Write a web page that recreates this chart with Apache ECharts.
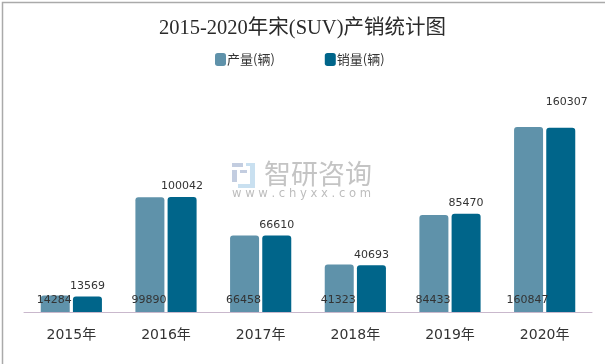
<!DOCTYPE html>
<html><head><meta charset="utf-8">
<style>html,body{margin:0;padding:0;background:#fff}#c{width:605px;height:364px}</style>
<script src="https://cdn.jsdelivr.net/npm/echarts@6/dist/echarts.min.js"></script>
</head><body><div id="c"></div>
<script>
const categories=['2015年','2016年','2017年','2018年','2019年','2020年'];
const production=[14284,99890,66458,41323,84433,160847];
const sales=[13569,100042,66610,40693,85470,160307];
const chart=echarts.init(document.getElementById('c'));
const lf='"DejaVu Sans",sans-serif';
chart.setOption({
 animation:false,
 backgroundColor:'#fff',
 title:{text:'2015-2020年宋(SUV)产销统计图',left:'center',top:13,textStyle:{fontFamily:'"Liberation Serif","Noto Sans CJK SC",serif',fontSize:20.5,fontWeight:'normal',color:'#2a2a2a'}},
 legend:{top:48,left:210,itemWidth:11,itemHeight:13,itemGap:50,icon:'roundRect',textStyle:{fontFamily:'"Noto Sans CJK SC",sans-serif',fontSize:13,color:'#333',padding:[0,0,0,-4]},data:['产量(辆)','销量(辆)']},
 grid:{left:24,right:13,top:105,bottom:52},
 xAxis:{type:'category',data:categories,axisTick:{show:false},axisLine:{lineStyle:{color:'#c9b8cc',width:1}},axisLabel:{fontFamily:'"DejaVu Sans","Noto Sans CJK SC",sans-serif',fontSize:14,color:'#333',margin:16}},
 yAxis:{type:'value',min:0,max:180000,show:false,splitLine:{show:false}},
 graphic:[
  {type:'rect',left:0,top:0,shape:{width:604,height:363},style:{fill:'none',stroke:'#aaa',lineWidth:1.5},silent:true},
  {type:'group',left:232,top:163,silent:true,children:[
   {type:'rect',shape:{x:0,y:0,width:11,height:4},style:{fill:'#c3cde0'}},
   {type:'rect',shape:{x:0,y:7,width:5,height:12},style:{fill:'#c3cde0'}},
   {type:'rect',shape:{x:8,y:7,width:7,height:3},style:{fill:'#c3cde0'}},
   {type:'rect',shape:{x:14,y:0,width:9,height:3},style:{fill:'#c9e0f0'}},
   {type:'rect',shape:{x:18,y:3,width:5,height:22},style:{fill:'#c9e0f0'}},
   {type:'rect',shape:{x:6,y:21,width:12,height:4},style:{fill:'#c9e0f0'}}
  ]},
  {type:'text',left:264,top:160,silent:true,style:{text:'智研咨询',fontFamily:'"Noto Sans CJK SC",sans-serif',fontSize:27,fill:'#c4c4c4'}},
  {type:'text',left:232,top:188,silent:true,style:{text:'w w w . c h y x x . c o m',fontFamily:lf,fontSize:11.6,fill:'#bdbdbd'}}
 ],
 series:[
  {name:'产量(辆)',type:'bar',data:production,barWidth:29,barGap:'11%',itemStyle:{color:'#5f92aa',borderRadius:[3,3,0,0]},
   label:{show:true,position:'insideBottom',distance:6,offset:[-1,0],fontFamily:lf,fontSize:11,color:'#333'}},
  {name:'销量(辆)',type:'bar',data:sales.map((v,i)=>i===5?{value:v,label:{offset:[6,-15]}}:v),barWidth:29,itemStyle:{color:'#00658a',borderRadius:[3,3,0,0]},
   label:{show:true,position:'top',distance:5,fontFamily:lf,fontSize:11,color:'#333'}}
 ]
});
</script></body></html>
